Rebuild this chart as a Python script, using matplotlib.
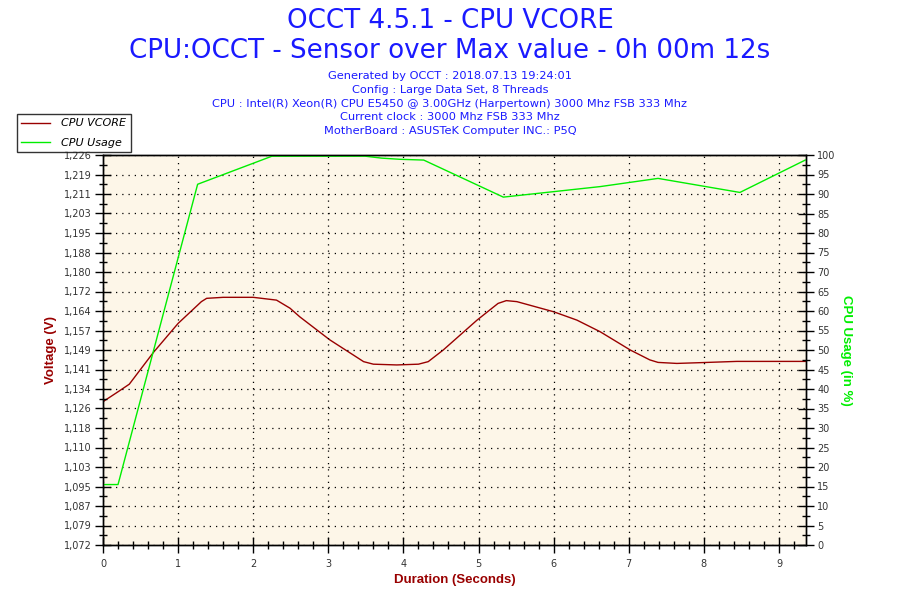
import matplotlib
matplotlib.use('Agg')
import matplotlib.pyplot as plt
from matplotlib.ticker import MultipleLocator, FixedLocator
import numpy as np

# CPU VCORE (V) over time (s)
vcore_t = [0, 0.2, 0.35, 0.67, 1.0, 1.31, 1.38, 1.6, 2.0, 2.31, 2.49, 2.62,
           3.02, 3.47, 3.6, 3.91, 4.2, 4.33, 4.53, 4.98, 5.26, 5.37, 5.51, 6.0,
           6.31, 6.62, 7.02, 7.28, 7.39, 7.64, 7.95, 8.44, 9.35]
vcore_v = [1.1286, 1.1325, 1.1355, 1.148, 1.1595, 1.1681, 1.1694, 1.1698,
           1.1698, 1.1687, 1.1655, 1.1621, 1.153, 1.1444, 1.1434, 1.1431, 1.1434,
           1.1444, 1.149, 1.1608, 1.1674, 1.1685, 1.1681, 1.1641, 1.1608, 1.1562,
           1.149, 1.1451, 1.1441, 1.1437, 1.1440, 1.1445, 1.1445]

# CPU usage (%) over time (s)
usage_t = [0, 0.2, 1.26, 2.25, 3.49, 3.71, 3.95, 4.27, 5.33, 6.62, 7.39, 8.48, 9.35]
usage_v = [15.5, 15.5, 92.5, 99.7, 99.7, 99.2, 98.9, 98.7, 89.2, 91.9, 94.0, 90.4, 98.7]

volt_labels = ['1,072', '1,079', '1,087', '1,095', '1,103', '1,110', '1,118', '1,126',
               '1,134', '1,141', '1,149', '1,157', '1,164', '1,172', '1,180', '1,188',
               '1,195', '1,203', '1,211', '1,219', '1,226']
volt_min, volt_max = 1.072, 1.226
x_max = 9.36

header = ['Generated by OCCT : 2018.07.13 19:24:01',
          'Config : Large Data Set, 8 Threads',
          'CPU : Intel(R) Xeon(R) CPU E5450 @ 3.00GHz (Harpertown) 3000 Mhz FSB 333 Mhz',
          'Current clock : 3000 Mhz FSB 333 Mhz',
          'MotherBoard : ASUSTeK Computer INC.: P5Q']

blue = '#1a1aff'
dark_red = '#990000'
green = '#00ee00'
arial = ['Liberation Sans', 'DejaVu Sans']

fig = plt.figure(figsize=(9, 6), dpi=100)
ax = fig.add_axes([103/900, 55/600, 703/900, 390/600])
ax.set_facecolor('#fdf6e8')
ax2 = ax.twinx()

l1, = ax.plot(vcore_t, vcore_v, color=dark_red, lw=1, label='CPU VCORE')
l2, = ax2.plot(usage_t, usage_v, color=green, lw=1, label='CPU Usage')

ax.set_xlim(0, x_max)
ax.set_ylim(volt_min, volt_max)
ax2.set_ylim(0, 100)

vticks = np.linspace(volt_min, volt_max, len(volt_labels))
ax.yaxis.set_major_locator(FixedLocator(vticks))
ax.set_yticklabels(volt_labels)
ax.yaxis.set_minor_locator(FixedLocator(vticks[:-1] + (vticks[1] - vticks[0]) / 2))
ax2.yaxis.set_major_locator(MultipleLocator(5))
ax2.yaxis.set_minor_locator(MultipleLocator(2.5))
ax.xaxis.set_major_locator(MultipleLocator(1))
ax.xaxis.set_minor_locator(MultipleLocator(0.2))

for a in (ax, ax2):
    a.tick_params(which='major', direction='inout', length=12, width=1,
                  labelsize=7, labelcolor='#333333', pad=2)
    a.tick_params(which='minor', direction='inout', length=6, width=1)
    for s in a.spines.values():
        s.set_linewidth(1)
ax.tick_params(axis='x', pad=4)

ax.grid(True, which='major', color='black', linestyle=(0, (1, 4)), linewidth=0.9)
ax.set_axisbelow(False)

ax.set_ylabel('Voltage (V)', color=dark_red, fontsize=9.5, fontweight='bold',
              family=arial, labelpad=5)
ax2.set_ylabel('CPU Usage (in %)', color=green, fontsize=9.5, fontweight='bold',
               family=arial, rotation=-90, labelpad=12)
ax.set_xlabel('Duration (Seconds)', color=dark_red, fontsize=9.5, fontweight='bold',
              family=arial, labelpad=4)

fig.text(0.5, 0.965, 'OCCT 4.5.1 - CPU VCORE', color=blue, fontsize=18.8,
         ha='center', va='center')
fig.text(0.5, 0.915, 'CPU:OCCT - Sensor over Max value - 0h 00m 12s', color=blue,
         fontsize=18.8, ha='center', va='center')
for i, line in enumerate(header):
    fig.text(0.5, 1 - (76 + i * 13.8) / 600, line, color=blue, fontsize=8.2,
             ha='center', va='center')

leg = fig.legend(handles=[l1, l2], loc='upper left', bbox_to_anchor=(17/900, 1 - 114/600),
                 prop={'style': 'italic', 'size': 8}, frameon=True,
                 fancybox=False, edgecolor='black', borderpad=0.4, handlelength=2.6,
                 handletextpad=1.0, labelspacing=0.85, borderaxespad=0)
leg.get_frame().set_linewidth(1)

fig.savefig('out.png', dpi=100)
